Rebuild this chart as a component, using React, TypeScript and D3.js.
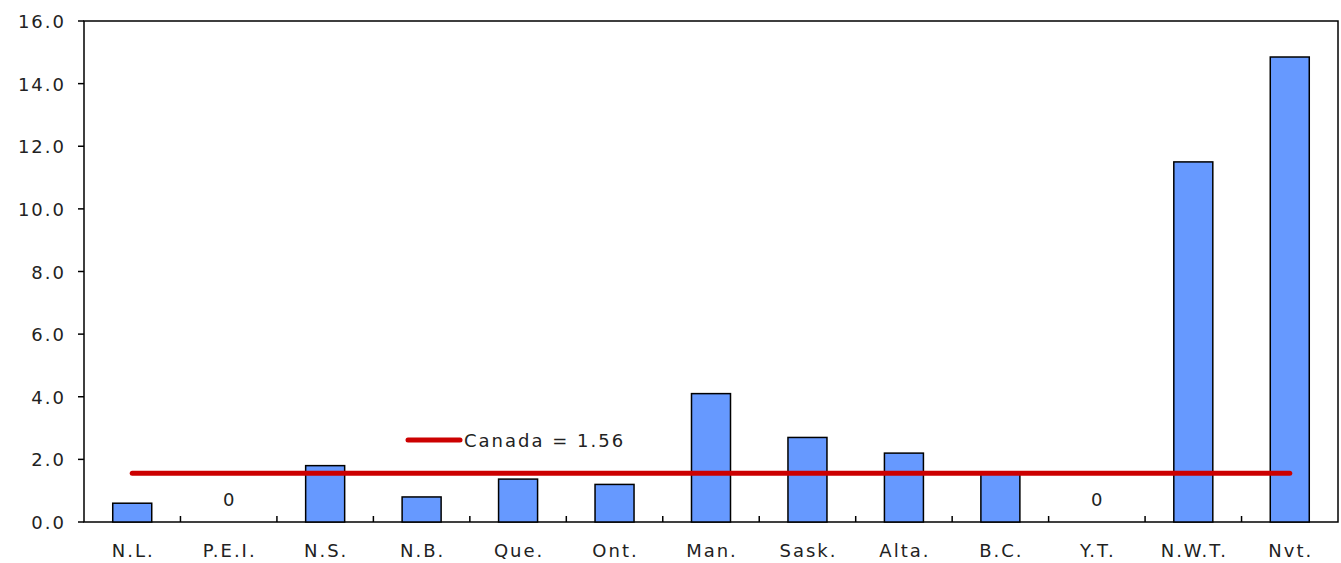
import * as d3 from "d3";

const categories = ["N.L.", "P.E.I.", "N.S.", "N.B.", "Que.", "Ont.", "Man.", "Sask.", "Alta.", "B.C.", "Y.T.", "N.W.T.", "Nvt."];
const values = [0.6, 0, 1.8, 0.8, 1.37, 1.2, 4.1, 2.7, 2.2, 1.56, 0, 11.5, 14.85];
const canadaRate = 1.56;
const yTicks = [0, 2, 4, 6, 8, 10, 12, 14, 16];

const W = 1341, H = 563;
const left = 84, right = 1338, top = 21, bottom = 522;
const font = "Verdana, 'DejaVu Sans', sans-serif";
const txt = { fontFamily: font, fontSize: 18, fill: "#222", letterSpacing: 2 };

export default function App() {
  const x = d3.scaleBand().domain(categories).range([left, right]);
  const y = d3.scaleLinear().domain([0, 16]).range([bottom, top]);
  const bw = 39;
  const first = x(categories[0])! + x.bandwidth() / 2;
  const last = x(categories[categories.length - 1])! + x.bandwidth() / 2;

  return (
    <svg width={W} height={H} style={{ position: "absolute", left: 0, top: 0, background: "#fff" }}>
      <rect x={left} y={top} width={right - left} height={bottom - top} fill="#fff" stroke="#000" strokeWidth={1.5} />
      {yTicks.map((t) => (
        <g key={t}>
          <line x1={left - 6} x2={left} y1={y(t)} y2={y(t)} stroke="#000" strokeWidth={1.5} />
          <text x={left - 18} y={y(t) + 7} textAnchor="end" {...txt}>
            {t.toFixed(1)}
          </text>
        </g>
      ))}
      {categories.slice(1).map((c) => (
        <line key={c} x1={x(c)} x2={x(c)} y1={bottom} y2={bottom - 6} stroke="#000" strokeWidth={1.5} />
      ))}
      {categories.map((c, i) => {
        const cx = x(c)! + x.bandwidth() / 2;
        return (
          <g key={c}>
            {values[i] > 0 ? (
              <rect x={cx - bw / 2} y={y(values[i])} width={bw} height={bottom - y(values[i])} fill="#6699ff" stroke="#000" strokeWidth={1.5} />
            ) : (
              <text x={cx + 1} y={y(0) - 16} textAnchor="middle" {...txt}>0</text>
            )}
            <text x={cx + 1} y={557} textAnchor="middle" {...txt}>{c}</text>
          </g>
        );
      })}
      <line x1={first} x2={last} y1={y(canadaRate)} y2={y(canadaRate)} stroke="#cc0000" strokeWidth={5} strokeLinecap="round" />
      <line x1={408} x2={460} y1={440} y2={440} stroke="#cc0000" strokeWidth={5} strokeLinecap="round" />
      <text x={464} y={447} {...txt}>Canada = 1.56</text>
    </svg>
  );
}
